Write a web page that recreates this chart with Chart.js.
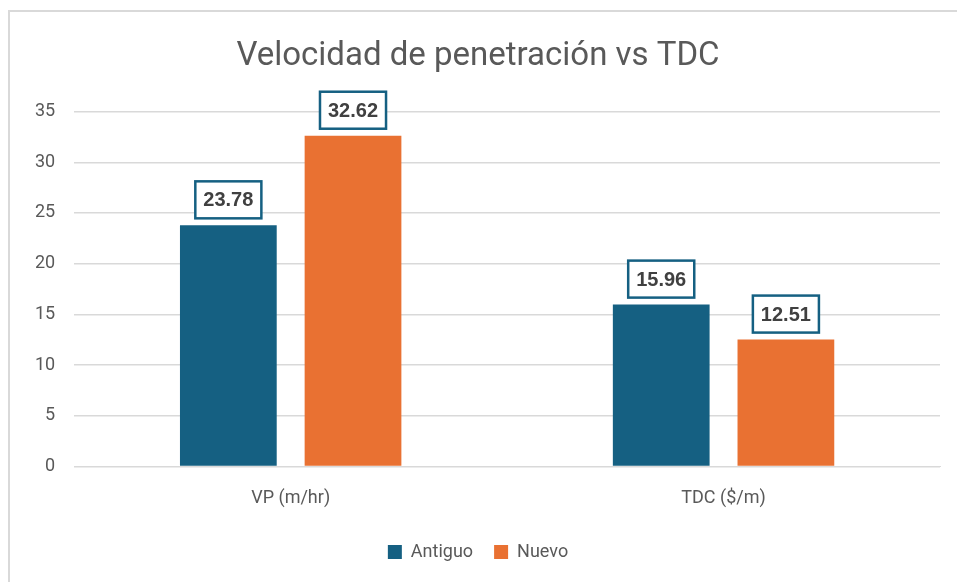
<!DOCTYPE html>
<html>
<head>
<meta charset="utf-8">
<script src="https://cdn.jsdelivr.net/npm/chart.js@4"></script>
<style>
  body { margin: 0; background: #fff; }
  #wrap { position: absolute; left: 8px; top: 10px; width: 949px; height: 572px;
          border-left: 2px solid #d9d9d9; border-top: 2px solid #d9d9d9; }
</style>
</head>
<body>
<div id="wrap"><canvas id="chart" width="947" height="570"></canvas></div>
<script>
const categories = ['VP (m/hr)', 'TDC ($/m)'];
const antiguo = [23.78, 15.96];
const nuevo = [32.62, 12.51];

// cajas con el valor encima de cada barra
const valueBoxes = {
  id: 'valueBoxes',
  afterDatasetsDraw(chart) {
    const c = chart.ctx;
    c.save();
    c.font = 'bold 20px "Liberation Sans", Arial, sans-serif';
    c.textAlign = 'center';
    c.textBaseline = 'middle';
    chart.data.datasets.forEach((ds, i) => {
      chart.getDatasetMeta(i).data.forEach((bar, j) => {
        const txt = ds.data[j].toFixed(2);
        const w = c.measureText(txt).width + 16;
        const h = 37;
        const x = bar.x - w / 2;
        const y = bar.y - 7 - h;
        c.fillStyle = '#fff';
        c.fillRect(x, y, w, h);
        c.strokeStyle = '#156082';
        c.lineWidth = 2.5;
        c.strokeRect(x, y, w, h);
        c.fillStyle = '#404040';
        c.fillText(txt, bar.x, y + h / 2 + 1);
      });
    });
    c.restore();
  }
};

new Chart(document.getElementById('chart'), {
  type: 'bar',
  data: {
    labels: categories,
    datasets: [
      { label: 'Antiguo', data: antiguo, backgroundColor: '#156082' },
      { label: 'Nuevo', data: nuevo, backgroundColor: '#E97132' }
    ]
  },
  options: {
    responsive: false,
    animation: false,
    layout: { padding: { left: 6, right: 17, top: 5, bottom: 11 } },
    datasets: { bar: { categoryPercentage: 0.576, barPercentage: 0.776 } },
    scales: {
      x: {
        grid: { display: false },
        border: { color: '#d9d9d9' },
        ticks: { color: '#595959', font: { size: 18, family: 'Roboto' }, padding: 13 }
      },
      y: {
        min: 0, max: 35,
        ticks: { stepSize: 5, color: '#595959', font: { size: 18, family: 'Roboto' }, padding: 19 },
        grid: { color: '#d9d9d9', lineWidth: 1.5, drawTicks: false },
        border: { display: false }
      }
    },
    plugins: {
      title: {
        display: true,
        text: 'Velocidad de penetración vs TDC',
        color: '#595959',
        font: { size: 33, family: 'Roboto', weight: 'normal' },
        padding: { top: 20, bottom: 35 }
      },
      legend: {
        position: 'bottom',
        labels: { color: '#595959', font: { size: 18, family: 'Roboto' }, boxWidth: 14, boxHeight: 14, padding: 21 }
      },
      tooltip: { enabled: false }
    }
  },
  plugins: [valueBoxes]
});
</script>
</body>
</html>
